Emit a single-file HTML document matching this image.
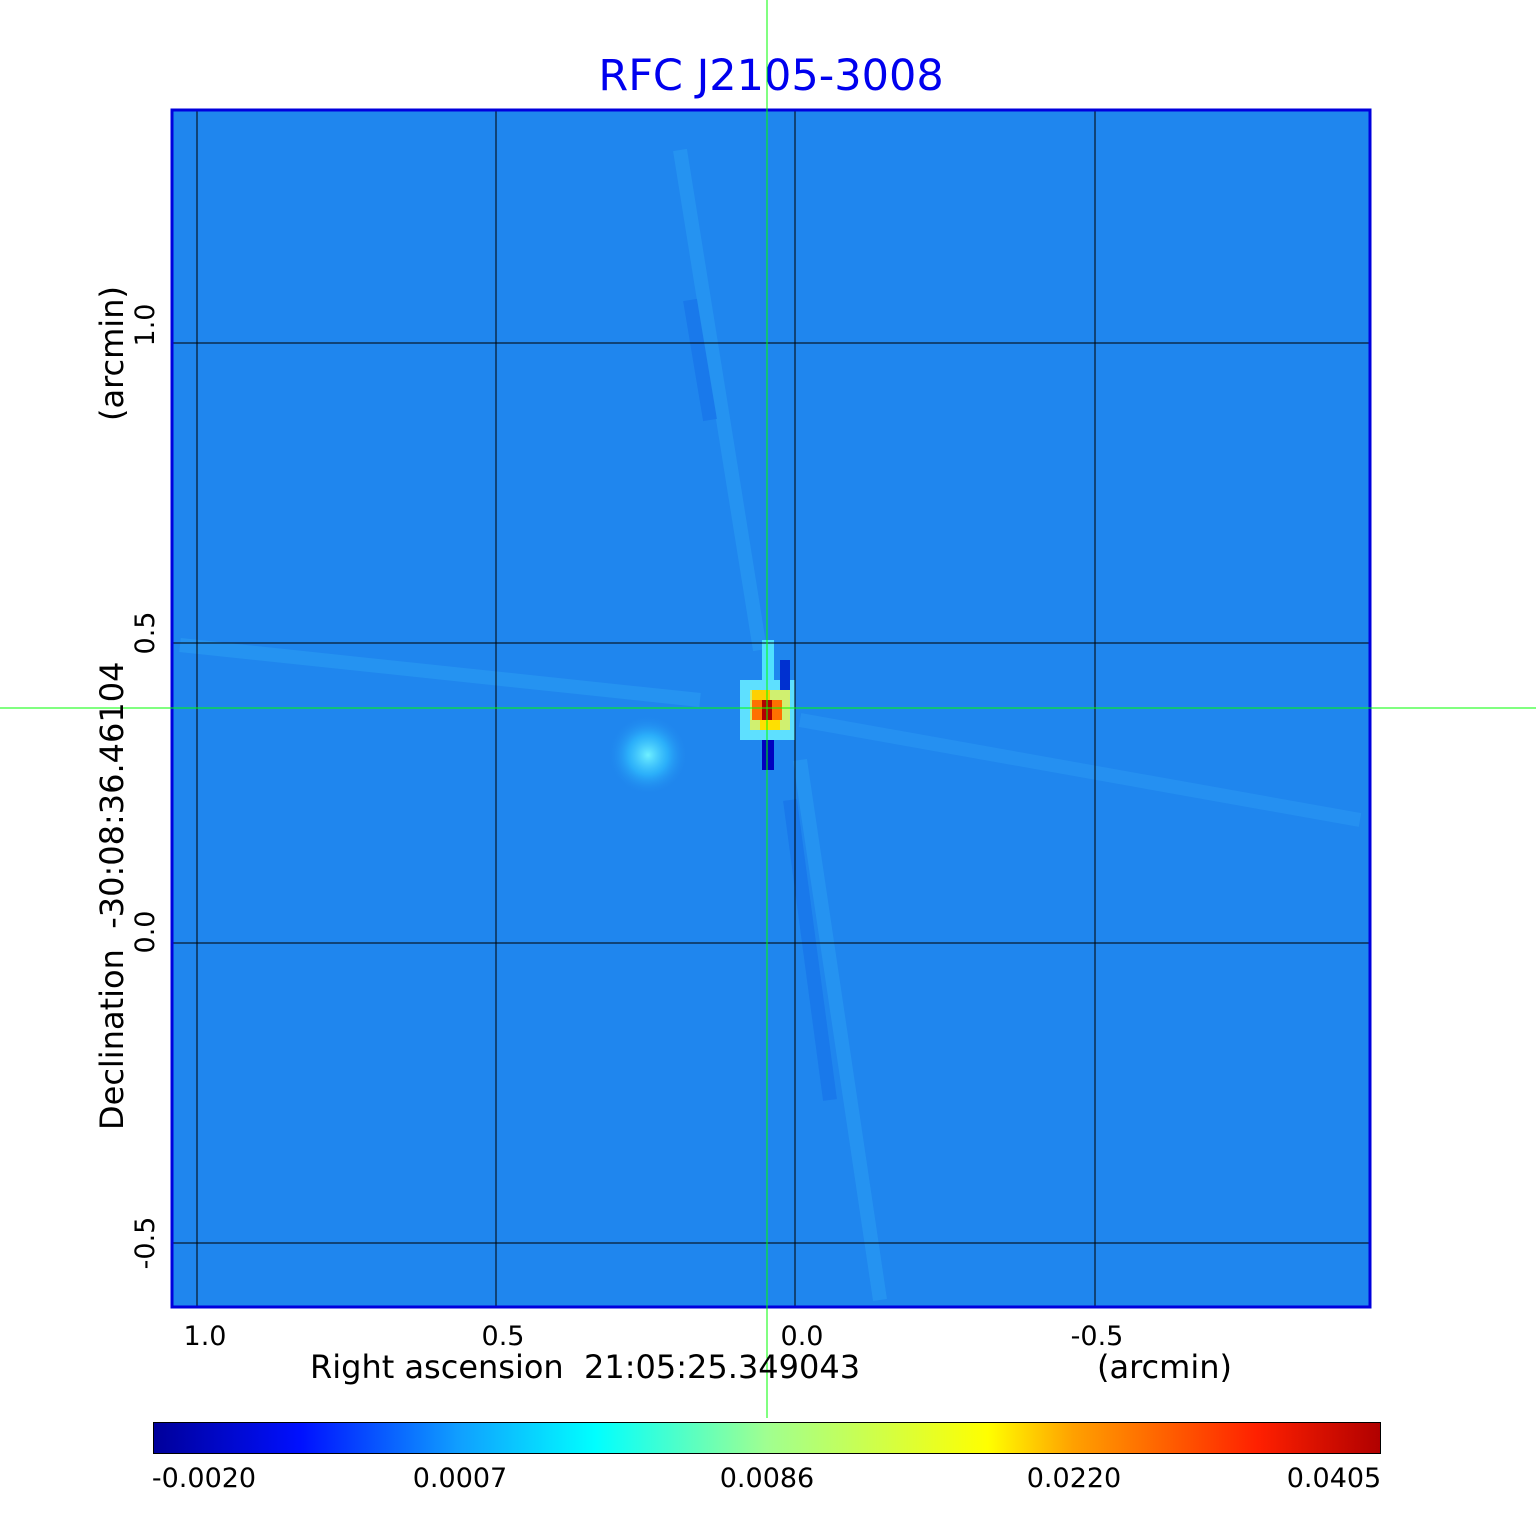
<!DOCTYPE html>
<html><head><style>
body{margin:0;background:#fff;width:1536px;height:1511px;overflow:hidden;font-family:"DejaVu Sans","Liberation Sans",sans-serif}
</style></head><body>
<svg width="1536" height="1511" xmlns="http://www.w3.org/2000/svg" font-family="DejaVu Sans, Liberation Sans, sans-serif">
<defs>
<radialGradient id="blob"><stop offset="0" stop-color="#6ff0ff"/><stop offset="0.5" stop-color="#30c0ff" stop-opacity="0.7"/><stop offset="1" stop-color="#1f86ee" stop-opacity="0"/></radialGradient>
<linearGradient id="cb" x1="0" x2="1">
<stop offset="0" stop-color="#00009a"/><stop offset="0.12" stop-color="#0010ff"/><stop offset="0.25" stop-color="#10a0ff"/><stop offset="0.36" stop-color="#00ffff"/><stop offset="0.5" stop-color="#a0ff90"/><stop offset="0.68" stop-color="#ffff00"/><stop offset="0.75" stop-color="#ffa000"/><stop offset="0.9" stop-color="#ff2000"/><stop offset="1" stop-color="#b00000"/>
</linearGradient>
</defs>
<text x="771" y="90" font-size="43" fill="#0000ee" text-anchor="middle">RFC J2105-3008</text>
<rect x="171" y="109" width="1200" height="1199" fill="#1f86ee"/>
<g stroke-width="14" fill="none" opacity="0.18">
<line x1="680" y1="150" x2="760" y2="650" stroke="#40d0ff"/>
<line x1="800" y1="760" x2="880" y2="1300" stroke="#40d0ff"/>
<line x1="690" y1="300" x2="710" y2="420" stroke="#0040e0"/>
<line x1="790" y1="800" x2="830" y2="1100" stroke="#0040e0"/>
<line x1="180" y1="645" x2="700" y2="700" stroke="#40d0ff"/>
<line x1="800" y1="720" x2="1360" y2="820" stroke="#40c0ff"/>
</g>
<circle cx="648" cy="755" r="40" fill="url(#blob)"/>
<rect x="740" y="680" width="55" height="60" fill="#5ee0ff"/>
<rect x="750" y="690" width="40" height="40" fill="#d0f070"/>
<rect x="752" y="690" width="18" height="10" fill="#ffd000"/>
<rect x="752" y="700" width="30" height="20" fill="#ff7000"/>
<rect x="762" y="700" width="10" height="20" fill="#b00000"/>
<rect x="760" y="720" width="20" height="10" fill="#ffe000"/>
<rect x="762" y="740" width="12" height="30" fill="#0000c0"/>
<rect x="780" y="660" width="10" height="30" fill="#0030d0"/>
<rect x="762" y="640" width="12" height="40" fill="#50e0ff"/>
<g stroke="#000" stroke-width="1">
<line x1="197" y1="109" x2="197" y2="1308"/><line x1="496" y1="109" x2="496" y2="1308"/>
<line x1="795" y1="109" x2="795" y2="1308"/><line x1="1095" y1="109" x2="1095" y2="1308"/>
<line x1="171" y1="343" x2="1371" y2="343"/><line x1="171" y1="643" x2="1371" y2="643"/>
<line x1="171" y1="943" x2="1371" y2="943"/><line x1="171" y1="1243" x2="1371" y2="1243"/>
</g>
<rect x="172" y="110" width="1198" height="1197" fill="none" stroke="#0000dd" stroke-width="3"/>
<line x1="767" y1="0" x2="767" y2="1418" stroke="#00ff00" stroke-width="1"/>
<line x1="0" y1="708" x2="1536" y2="708" stroke="#00ff00" stroke-width="1"/>
<g font-size="27" fill="#000">
<text x="205" y="1345" text-anchor="middle">1.0</text>
<text x="503" y="1345" text-anchor="middle">0.5</text>
<text x="802" y="1345" text-anchor="middle">0.0</text>
<text x="1097" y="1345" text-anchor="middle">-0.5</text>
<text transform="translate(154,325) rotate(-90)" text-anchor="middle">1.0</text>
<text transform="translate(154,633) rotate(-90)" text-anchor="middle">0.5</text>
<text transform="translate(154,932) rotate(-90)" text-anchor="middle">0.0</text>
<text transform="translate(154,1243) rotate(-90)" text-anchor="middle">-0.5</text>
</g>
<g font-size="32" fill="#000">
<text x="310" y="1378">Right ascension&#160; 21:05:25.349043</text>
<text x="1097" y="1378">(arcmin)</text>
<text transform="translate(123,1130) rotate(-90)">Declination&#160; -30:08:36.46104</text>
<text transform="translate(123,421) rotate(-90)">(arcmin)</text>
</g>
<rect x="153.5" y="1422.5" width="1227" height="31" fill="url(#cb)" stroke="#000" stroke-width="1"/>
<g font-size="27" fill="#000" text-anchor="middle">
<text x="204" y="1487">-0.0020</text>
<text x="460" y="1487">0.0007</text>
<text x="767" y="1487">0.0086</text>
<text x="1074" y="1487">0.0220</text>
<text x="1334" y="1487">0.0405</text>
</g>
</svg>
</body></html>
